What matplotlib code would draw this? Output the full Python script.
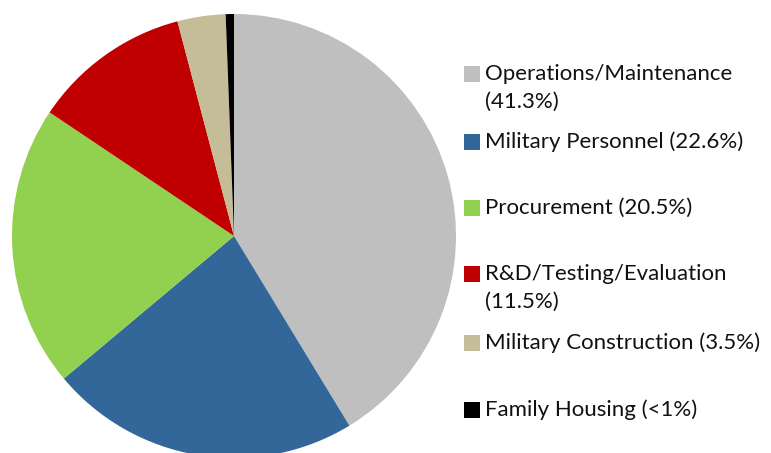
import matplotlib
matplotlib.use("Agg")
import matplotlib.pyplot as plt
from matplotlib.patches import Rectangle

# Budget shares by category (percent), drawn clockwise from 12 o'clock
categories = ["Operations/Maintenance", "Military Personnel", "Procurement",
              "R&D/Testing/Evaluation", "Military Construction", "Family Housing"]
shares = [41.3, 22.6, 20.5, 11.5, 3.5, 0.6]
legend_labels = ["Operations/Maintenance\n(41.3%)", "Military Personnel (22.6%)",
                 "Procurement (20.5%)", "R&D/Testing/Evaluation\n(11.5%)",
                 "Military Construction (3.5%)", "Family Housing (<1%)"]
colors = ["#BFBFBF", "#336699", "#92D050", "#C00000", "#C4BD97", "#000000"]

W, H = 771, 453
fig = plt.figure(figsize=(W / 100, H / 100), dpi=100)
fig.patch.set_facecolor("white")

# Pie axes: centre at (234, 236) px, radius 222 px
cx, cy, r = 234, 236, 222
ax = fig.add_axes([(cx - r) / W, (H - cy - r) / H, 2 * r / W, 2 * r / H])
ax.pie(shares, colors=colors, startangle=90, counterclock=False,
       wedgeprops=dict(linewidth=0))
ax.set_xlim(-1, 1)
ax.set_ylim(-1, 1)
ax.set_aspect("equal")
ax.axis("off")

# Legend drawn as swatches + text rows
row_y = [74, 142, 208, 274, 343, 410]
line_gap = 28
sw = 16
for lab, col, y in zip(legend_labels, colors, row_y):
    fig.patches.append(Rectangle(((464) / W, (H - y - sw / 2) / H), sw / W, sw / H,
                                 transform=fig.transFigure, facecolor=col,
                                 edgecolor="none"))
    for i, line in enumerate(lab.split("\n")):
        fig.text(485 / W, (H - (y + i * line_gap)) / H, line,
                 family="Lato", fontsize=16, color="#111111",
                 ha="left", va="center")

fig.savefig("out.png", dpi=100, facecolor="white")
